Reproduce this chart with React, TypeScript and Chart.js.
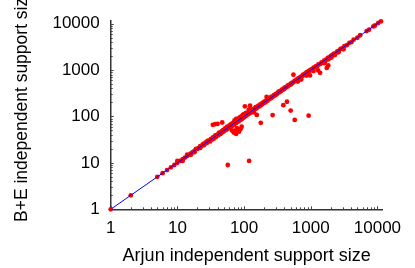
import React, { useEffect, useRef } from "react";
import { Chart, registerables } from "chart.js";

Chart.register(...registerables);

const arjunSize = [
  1, 2, 5, 6, 7, 8, 9, 10, 10, 11, 12, 12, 13, 14, 14, 15, 16, 16, 17, 18, 18, 19, 20,
  21, 22, 22, 23, 24, 25, 25, 26, 27, 28, 28, 29, 30, 31, 32, 33, 34, 35, 35, 36, 37, 38, 39, 40,
  41, 42, 43, 44, 45, 46, 47, 48, 49, 50,
  34, 37, 40, 47, 57, 119,
  51, 52, 53, 55, 55, 56, 57, 58, 60, 60, 62, 63, 64, 65, 66, 67, 68, 70, 70, 72, 72, 74, 75, 76,
  77, 78, 80, 80, 82, 83, 85, 86, 88, 90, 90, 92, 93, 95, 96, 98, 100, 100, 102, 105, 106, 108,
  110, 112, 115, 117, 120, 122, 125, 128, 130, 133, 135, 138, 140, 145, 148, 150, 155, 160, 165,
  170, 175, 180, 185, 190, 195,
  66, 70, 73, 76, 79, 84, 78, 88, 92, 103, 123, 141, 118, 155, 178, 268, 388, 440, 500, 575, 930, 550,
  200, 205, 210, 215, 218, 220, 225, 230, 240, 250, 255, 260, 270, 280, 290, 300, 310, 320, 330,
  340, 350, 360, 370, 380, 390, 400, 410, 420, 440, 450, 460, 480, 500, 510, 530, 550, 570, 590,
  610, 630, 650, 670, 700, 720, 750, 770, 800, 820, 850, 870, 900, 930, 960, 990,
  975, 1290, 1740, 1380, 1830, 640, 720, 860, 1100, 1600,
  1000, 1050, 1100, 1150, 1200, 1250, 1300, 1380, 1450, 1500, 1600, 1650, 1700, 1800, 1850, 1900,
  2000, 2050, 2100, 2200, 2300, 2350, 2500, 2600, 2650, 2800, 3000, 3100, 3200, 3500, 3800, 4100,
  4400, 5000, 5500, 6900, 7500, 8700, 9200, 10300, 11300,
];

const beSize = [
  1, 2, 5, 6, 7, 8, 9, 10, 11, 11, 12, 11, 13, 14, 15, 15, 16, 15, 17, 18, 17, 20, 20,
  21, 23, 21, 23, 25, 24, 26, 26, 28, 27, 29, 30, 30, 29, 33, 32, 35, 36, 33, 36, 39, 36, 40, 40,
  39, 44, 45, 42, 46, 44, 49, 50, 47, 52,
  66, 68, 69, 74, 9, 11,
  50, 55, 51, 58, 53, 60, 55, 59, 63, 57, 65, 60, 68, 62, 70, 64, 69, 74, 66, 76, 82, 71, 79, 88,
  73, 82, 86, 77, 90, 79, 87, 95, 84, 97, 91, 102, 88, 99, 108, 94, 103, 112, 98, 110, 118, 104,
  114, 120, 111, 122, 126, 117, 130, 123, 136, 129, 141, 134, 146, 142, 152, 158, 150, 165, 170,
  164, 181, 175, 192, 186, 201,
  50, 45, 49, 42, 52, 47, 56, 53, 60, 165, 170, 122, 140, 108, 73, 107, 175, 207, 134, 84, 104, 790,
  206, 198, 216, 209, 262, 228, 219, 236, 237, 256, 247, 268, 264, 286, 281, 306, 299, 326, 340,
  331, 356, 351, 379, 374, 396, 389, 421, 414, 446, 439, 471, 474, 506, 494, 536, 544, 581, 584,
  621, 614, 661, 664, 711, 699, 756, 792, 789, 831, 839, 902, 889, 941, 949, 1002,
  765, 980, 1110, 870, 1250, 565, 625, 760, 950, 1400,
  1010, 1040, 1120, 1130, 1210, 1200, 1320, 1340, 1460, 1420, 1620, 1520, 1680, 1820, 1700, 1870,
  2020, 1850, 2080, 2230, 2100, 2300, 2520, 2400, 2600, 2850, 2950, 2800, 3250, 3450, 3850, 4000,
  4500, 4950, 5600, 6900, 7400, 8700, 9100, 10300, 11100,
];

const diagonalEnds = [1, 11300];
const decadeTicks = [1, 10, 100, 1000, 10000];
const xTitle = "Arjun independent support size";
const yTitle = "B+E independent support size";

const FONT = "'Liberation Sans', Arial, Helvetica, sans-serif";

const decorPlugin = {
  id: "decor",
  afterDraw(chart: any) {
    const { ctx, chartArea, scales } = chart;
    const xs = scales.x;
    const ys = scales.y;
    ctx.save();
    ctx.strokeStyle = "#444";
    ctx.lineWidth = 1;
    for (let d = 1; d <= 10000; d *= 10) {
      for (let m = 1; m <= 9; m++) {
        const v = d * m;
        const major = m === 1;
        const len = major ? 3 : 2;
        if (v <= xs.max) {
          const px = Math.round(xs.getPixelForValue(v)) + 0.5;
          ctx.beginPath();
          ctx.moveTo(px, chartArea.bottom);
          ctx.lineTo(px, chartArea.bottom - len);
          ctx.stroke();
        }
        if (v <= ys.max) {
          const py = Math.round(ys.getPixelForValue(v)) + 0.5;
          ctx.beginPath();
          ctx.moveTo(chartArea.left, py);
          ctx.lineTo(chartArea.left + len, py);
          ctx.stroke();
        }
      }
    }
    ctx.fillStyle = "#000";
    ctx.font = `18px ${FONT}`;
    ctx.textAlign = "center";
    ctx.textBaseline = "alphabetic";
    ctx.fillText(xTitle, (chartArea.left + chartArea.right) / 2, 261);
    ctx.translate(27, 222);
    ctx.rotate(-Math.PI / 2);
    ctx.font = `17.5px ${FONT}`;
    ctx.textAlign = "left";
    ctx.fillText(yTitle, 0, 0);
    ctx.restore();
  },
};

export default function App() {
  const ref = useRef<HTMLCanvasElement | null>(null);
  useEffect(() => {
    document.body.style.margin = "0";
    const canvas = ref.current;
    if (!canvas) return;
    const points = arjunSize.map((x, i) => ({ x, y: beSize[i] }));
    const line = diagonalEnds.map((v) => ({ x: v, y: v }));
    const chart = new Chart(canvas, {
      type: "scatter",
      data: {
        datasets: [
          {
            type: "line",
            data: line,
            borderColor: "#0000ff",
            borderWidth: 1,
            pointRadius: 0,
            fill: false,
            order: 0,
          },
          {
            type: "scatter",
            data: points,
            backgroundColor: "#ff0000",
            borderColor: "#ff0000",
            borderWidth: 0,
            pointRadius: 2.4,
            clip: false,
            order: 1,
          },
        ],
      },
      options: {
        responsive: false,
        animation: false,
        events: [],
        layout: { padding: { left: 0, right: 32.3, top: 18.3, bottom: 0 } },
        plugins: { legend: { display: false }, tooltip: { enabled: false } },
        scales: {
          x: {
            type: "logarithmic",
            min: 1,
            max: 12000,
            afterBuildTicks: (s: any) => {
              s.ticks = decadeTicks.map((v) => ({ value: v }));
            },
            afterFit: (s: any) => {
              s.height = 58.7;
            },
            ticks: {
              callback: (v: any) => String(v),
              font: { size: 17, family: FONT },
              color: "#000",
              padding: 9,
              maxRotation: 0,
              autoSkip: false,
            },
            grid: { display: false, drawTicks: false },
            border: { display: true, color: "#333", width: 1.5 },
          },
          y: {
            type: "logarithmic",
            min: 1,
            max: 11250,
            afterBuildTicks: (s: any) => {
              s.ticks = decadeTicks.map((v) => ({ value: v }));
            },
            afterFit: (s: any) => {
              s.width = 110.7;
            },
            ticks: {
              callback: (v: any) => String(v),
              font: { size: 17, family: FONT },
              color: "#000",
              padding: 11,
              autoSkip: false,
            },
            grid: { display: false, drawTicks: false },
            border: { display: true, color: "#333", width: 1.5 },
          },
        },
      },
      plugins: [decorPlugin],
    } as any);
    return () => chart.destroy();
  }, []);
  return <canvas ref={ref} width={415} height={268} />;
}
